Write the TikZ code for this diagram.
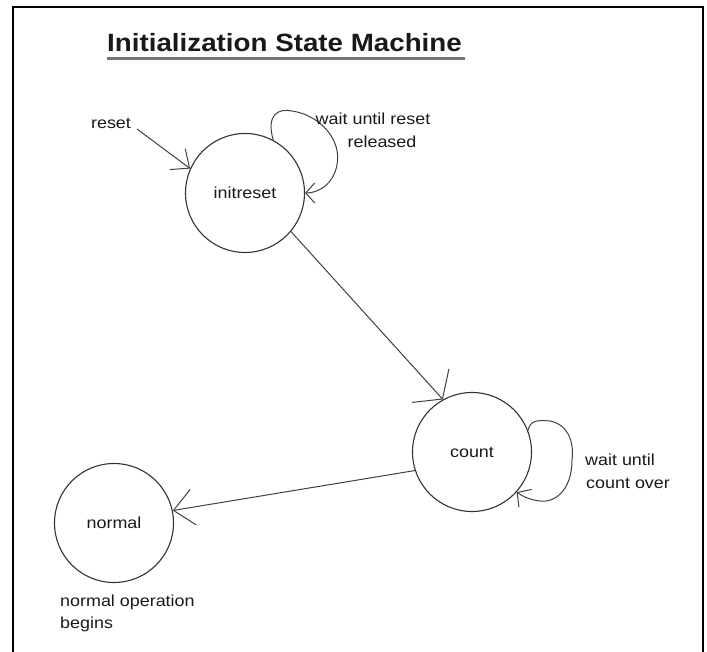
\documentclass[tikz,border=0pt]{standalone}
\usepackage{fontspec}
\setmainfont{Liberation Sans}
\newfontfamily\labelfont[FakeStretch=1.12]{Liberation Sans}
\newfontfamily\headfont[FakeStretch=1.11]{Liberation Sans}
\usetikzlibrary{arrows.meta}

\begin{document}
\begin{tikzpicture}[x=1pt,y=-1pt,
  state/.style={circle, draw=black!80, line width=1.1pt, minimum size=119pt,
    inner sep=0pt, font=\labelfont\fontsize{16}{19}\selectfont, text=black!90},
  txt/.style={inner sep=0pt, font=\labelfont\fontsize{16}{19}\selectfont, text=black!90},
  link/.style={draw=black!75, line width=1pt},
  barb/.style 2 args={-{Straight Barb[length=#1, width=#2]}}]

% page size and frame (open at the bottom)
\useasboundingbox (0,0) rectangle (707,652);
\draw[line width=2.2pt, line cap=butt] (12.7,652) -- (12.7,7.3) -- (703.3,7.3) -- (703.3,652);

% heading with its grey underline
\node[anchor=base west, inner sep=0pt, font=\headfont\bfseries\fontsize{25}{30}\selectfont,
  text=black!90] (title) at (107,52) {Initialization State Machine};
\draw[line width=3.5pt, draw=black!55]
  ([yshift=-6.7pt]title.base west) -- ([yshift=-6.7pt,xshift=3pt]title.base east);

% states
\node[state] (initreset) at (245,193) {initreset};
\node[state] (count) at (472,452) {count};
\node[state] (normal) at (114,523) {normal};

% reset entry
\node[txt, anchor=base] (resetlbl) at (111,129) {reset};
\coordinate (resetstart) at (137,129);
\draw[link, barb={15}{26}] (resetstart) -- (initreset.156);

% initreset self loop
\draw[link, barb={9}{20}] (initreset.62)
  .. controls (266,115) and (278,108) .. (292,111)
  .. controls (320,115) and (342,140) .. (337,165)
  .. controls (333,185) and (318,193) .. (initreset.0);
\node[txt, anchor=base] (waitA) at (373,125) {wait until reset};
\node[txt, anchor=base] (waitB) at (382,148) {released};

% initreset -> count
\draw[link, barb={18}{50}] (initreset.-40) -- (count.119);

% count self loop
\draw[link, barb={10}{22}] (count.21)
  .. controls (530,420) and (538,420) .. (550,421)
  .. controls (570,425) and (574,445) .. (572,460)
  .. controls (572,490) and (555,503) .. (540,501)
  .. controls (530,500) and (522,496) .. (count.-42);
\node[txt, anchor=base west] (waitC) at (585,465) {wait until};
\node[txt, anchor=base west] (waitD) at (586,488) {count over};

% count -> normal
\draw[link, barb={20}{36}] (count.198) -- (normal.12);

% note under normal
\node[txt, anchor=base west] (noteA) at (60,606) {normal operation};
\node[txt, anchor=base west] (noteB) at (60,628) {begins};
\end{tikzpicture}
\end{document}
